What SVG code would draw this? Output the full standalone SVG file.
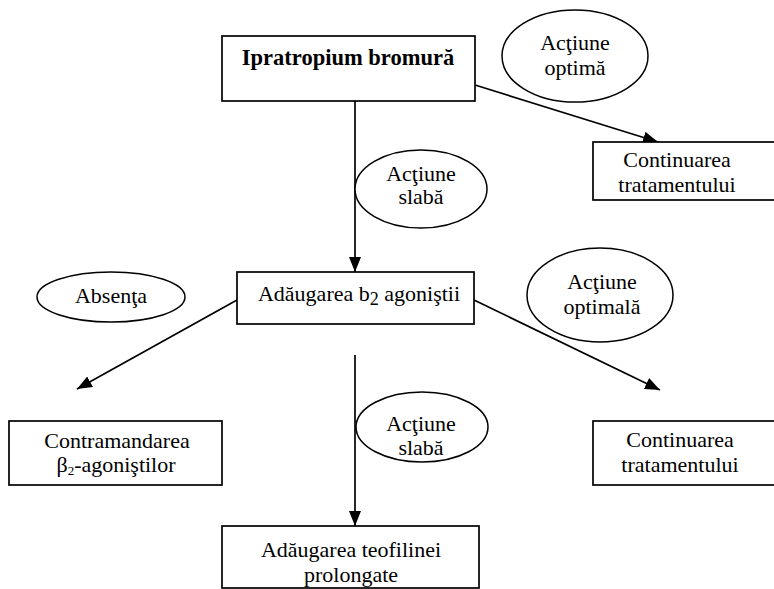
<svg xmlns="http://www.w3.org/2000/svg" width="774" height="589" viewBox="0 0 774 589">
<style>
.box{fill:#fff;stroke:#000;stroke-width:1.7}
.ell{fill:#fff;stroke:#000;stroke-width:1.5}
.t{font-family:"Liberation Serif","Times New Roman",serif;font-size:22px;fill:#000;text-anchor:middle}
.s{font-size:18px}
.b{font-weight:bold;font-size:22.5px}
.c{stroke:#000;stroke-width:1.7;fill:none;marker-end:url(#arr)}
</style>
<defs>
<marker id="arr" viewBox="0 0 15 12" refX="15" refY="6" markerWidth="15" markerHeight="12" orient="auto" markerUnits="userSpaceOnUse">
<path d="M0,0 L15,6 L0,12 z" fill="#000"/>
</marker>
</defs>
<rect width="774" height="589" fill="#fff"/>
<g id="connectors">
<line class="c" x1="355" y1="101" x2="355" y2="272"/>
<line class="c" x1="475" y1="85" x2="658" y2="142"/>
<line class="c" x1="237" y1="300" x2="77" y2="389"/>
<line class="c" x1="474" y1="300" x2="660" y2="390"/>
<line class="c" x1="355" y1="355" x2="355" y2="526"/>
</g>
<g id="ipratropium">
<rect class="box" x="222" y="36" width="253" height="65"/>
<text class="t b" x="348" y="65">Ipratropium bromură</text>
</g>
<g id="actiune-optima">
<ellipse class="ell" cx="575" cy="56" rx="73" ry="46"/>
<text class="t" x="575" y="50">Acţiune</text>
<text class="t" x="575" y="75">optimă</text>
</g>
<g id="continuarea1">
<rect class="box" x="593" y="142" width="190" height="58"/>
<text class="t" x="677" y="167" font-size="23.5">Continuarea</text>
<text class="t" x="677" y="192" font-size="23.5">tratamentului</text>
</g>
<g id="actiune-slaba1">
<ellipse class="ell" cx="421" cy="189" rx="66" ry="39"/>
<text class="t" x="421" y="181">Acţiune</text>
<text class="t" x="421" y="204">slabă</text>
</g>
<g id="adaugarea-b2">
<rect class="box" x="237" y="272" width="237" height="52"/>
<text class="t" x="359" y="301" font-size="23">Adăugarea b<tspan class="s" dy="4">2</tspan><tspan dy="-4"> agoniştii</tspan></text>
</g>
<g id="absenta">
<ellipse class="ell" cx="111" cy="297" rx="74" ry="25"/>
<text class="t" x="111" y="303">Absenţa</text>
</g>
<g id="actiune-optimala">
<ellipse class="ell" cx="600" cy="295" rx="73" ry="47"/>
<text class="t" x="602" y="289">Acţiune</text>
<text class="t" x="602" y="314">optimală</text>
</g>
<g id="contramandarea">
<rect class="box" x="9" y="421" width="213" height="64"/>
<text class="t" x="117" y="448" font-size="22.5">Contramandarea</text>
<text class="t" x="116" y="472" font-size="19">β<tspan font-size="13" dy="3">2</tspan><tspan dy="-3">-agoniştilor</tspan></text>
</g>
<g id="actiune-slaba2">
<ellipse class="ell" cx="422" cy="427" rx="66" ry="35"/>
<text class="t" x="421" y="431">Acţiune</text>
<text class="t" x="421" y="455">slabă</text>
</g>
<g id="continuarea2">
<rect class="box" x="593" y="421" width="190" height="64"/>
<text class="t" x="680" y="447" font-size="23">Continuarea</text>
<text class="t" x="680" y="472" font-size="23">tratamentului</text>
</g>
<g id="teofilina">
<rect class="box" x="222" y="526" width="257" height="62"/>
<text class="t" x="351" y="557">Adăugarea teofilinei</text>
<text class="t" x="351" y="582">prolongate</text>
</g>
</svg>
